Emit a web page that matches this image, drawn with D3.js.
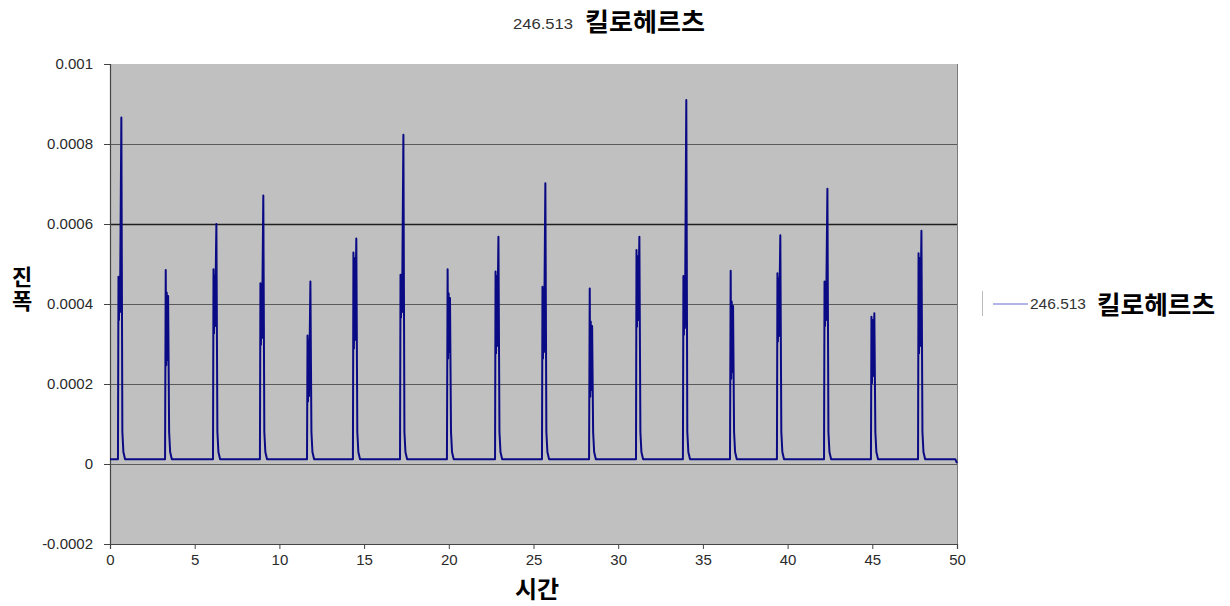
<!DOCTYPE html>
<html><head><meta charset="utf-8">
<script src="https://cdn.jsdelivr.net/npm/d3@7"></script>
<style>
body{margin:0;background:#fff;}
svg{display:block;}
</style></head>
<body><svg id="c" width="1230" height="606"></svg>
<script>
// ---- data ----
const seriesName = "246.513";
const titleUnit = "킬로헤르츠";
const xLabel = "시간";
const yLabel = "진폭";
const xTicks = [0,5,10,15,20,25,30,35,40,45,50];
const yTicks = [-0.0002,0,0.0002,0.0004,0.0006,0.0008,0.001];
const yTickLabels = ["-0.0002","0","0.0002","0.0004","0.0006","0.0008","0.001"];

const time = [
  0,
  0.47,0.50,0.53,0.56,0.59,0.67,0.73,0.79,0.89,
  3.25,3.29,3.32,3.35,3.38,3.43,3.49,3.55,3.65,
  6.08,6.11,6.14,6.17,6.20,6.28,6.34,6.40,6.50,
  8.85,8.88,8.91,8.94,8.97,9.05,9.11,9.17,9.27,
  11.63,11.66,11.69,11.72,11.75,11.83,11.89,11.95,12.05,
  14.34,14.37,14.40,14.43,14.46,14.54,14.60,14.66,14.76,
  17.12,17.15,17.18,17.21,17.24,17.32,17.38,17.44,17.54,
  19.89,19.93,19.96,19.99,20.02,20.07,20.13,20.19,20.29,
  22.73,22.76,22.79,22.82,22.85,22.93,22.99,23.05,23.15,
  25.50,25.53,25.56,25.59,25.62,25.70,25.76,25.82,25.92,
  28.28,28.32,28.35,28.38,28.41,28.46,28.52,28.58,28.68,
  31.05,31.08,31.11,31.14,31.17,31.25,31.31,31.37,31.47,
  33.82,33.85,33.88,33.91,33.94,34.02,34.08,34.14,34.24,
  36.60,36.64,36.67,36.70,36.73,36.78,36.84,36.90,37.00,
  39.37,39.40,39.43,39.46,39.49,39.57,39.63,39.69,39.79,
  42.15,42.18,42.21,42.24,42.27,42.35,42.41,42.47,42.57,
  44.92,44.95,44.98,45.01,45.04,45.12,45.18,45.24,45.34,
  47.70,47.73,47.76,47.79,47.82,47.90,47.96,48.02,48.12,
  49.90,50.00
];
const amplitude = [
  1.2e-5,
  1.2e-5,4.68e-4,3.60e-4,4.55e-4,3.80e-4,8.66e-4,8e-5,3e-5,1.2e-5,
  1.2e-5,4.85e-4,2.47e-4,4.29e-4,2.60e-4,4.20e-4,8e-5,3e-5,1.2e-5,
  1.2e-5,4.87e-4,3.27e-4,4.72e-4,3.45e-4,6.00e-4,8e-5,3e-5,1.2e-5,
  1.2e-5,4.52e-4,2.98e-4,4.40e-4,3.15e-4,6.71e-4,8e-5,3e-5,1.2e-5,
  1.2e-5,3.21e-4,1.56e-4,3.10e-4,1.70e-4,4.56e-4,8e-5,3e-5,1.2e-5,
  1.2e-5,5.29e-4,2.89e-4,5.15e-4,3.10e-4,5.64e-4,8e-5,3e-5,1.2e-5,
  1.2e-5,4.73e-4,3.66e-4,4.60e-4,3.80e-4,8.23e-4,8e-5,3e-5,1.2e-5,
  1.2e-5,4.87e-4,2.64e-4,4.27e-4,2.80e-4,4.15e-4,8e-5,3e-5,1.2e-5,
  1.2e-5,4.81e-4,2.77e-4,4.70e-4,2.95e-4,5.68e-4,8e-5,3e-5,1.2e-5,
  1.2e-5,4.43e-4,2.64e-4,4.30e-4,2.80e-4,7.02e-4,8e-5,3e-5,1.2e-5,
  1.2e-5,4.39e-4,1.68e-4,3.56e-4,1.85e-4,3.45e-4,8e-5,3e-5,1.2e-5,
  1.2e-5,5.35e-4,3.43e-4,5.20e-4,3.60e-4,5.68e-4,8e-5,3e-5,1.2e-5,
  1.2e-5,4.70e-4,3.23e-4,4.60e-4,3.40e-4,9.10e-4,8e-5,3e-5,1.2e-5,
  1.2e-5,4.83e-4,2.13e-4,4.06e-4,2.30e-4,3.95e-4,8e-5,3e-5,1.2e-5,
  1.2e-5,4.77e-4,3.06e-4,4.65e-4,3.20e-4,5.72e-4,8e-5,3e-5,1.2e-5,
  1.2e-5,4.56e-4,3.45e-4,4.45e-4,3.60e-4,6.88e-4,8e-5,3e-5,1.2e-5,
  1.2e-5,3.68e-4,2.02e-4,3.60e-4,2.20e-4,3.77e-4,8e-5,3e-5,1.2e-5,
  1.2e-5,5.27e-4,2.77e-4,5.15e-4,2.95e-4,5.83e-4,8e-5,3e-5,1.2e-5,
  1.2e-5,2e-6
];

// ---- layout ----
const svg = d3.select("#c");
const L = 110, R = 957, T = 64, B = 544;
const x = d3.scaleLinear().domain([0,50]).range([L,R]);
const y = d3.scaleLinear().domain([-0.0002,0.001]).range([B,T]);
const smallFont = "Arial, 'Liberation Sans', sans-serif";
const krFont = "'Noto Sans CJK KR', sans-serif";

// plot background
svg.append("rect").attr("x",L).attr("y",T).attr("width",R-L).attr("height",B-T).attr("fill","#c0c0c0");

// gridlines
svg.append("g").selectAll("line").data(yTicks.filter(v=>v>-0.0002 && v<0.001)).join("line")
  .attr("x1",L).attr("x2",R)
  .attr("y1",d=>Math.round(y(d))+0.5).attr("y2",d=>Math.round(y(d))+0.5)
  .attr("stroke",d=>Math.abs(d-0.0006)<1e-9 ? "#1e1e1e" : "#5a5a5a")
  .attr("stroke-width",d=>Math.abs(d-0.0006)<1e-9 ? 1.6 : 1.2);

// right border
svg.append("line").attr("x1",R+0.5).attr("x2",R+0.5).attr("y1",T).attr("y2",B).attr("stroke","#7a7a7a").attr("stroke-width",1);

// axes
const yAxis = d3.axisLeft(y).tickValues(yTicks).tickSize(6).tickPadding(11)
  .tickFormat((d,i)=>yTickLabels[i]);
const gy = svg.append("g").attr("transform",`translate(${L},0)`).call(yAxis);
const xAxis = d3.axisBottom(x).tickValues(xTicks).tickSize(5).tickPadding(5).tickFormat(d3.format("d"));
const gx = svg.append("g").attr("transform",`translate(0,${B})`).call(xAxis);
[gx,gy].forEach(g=>{
  g.select(".domain").attr("stroke","#444").attr("stroke-width",1.2);
  g.selectAll(".tick line").attr("stroke","#444");
  g.selectAll(".tick text").attr("font-family",smallFont).attr("font-size",15).attr("fill","#2a2a2a");
});

// series line
const pts = time.map((t,i)=>[t,amplitude[i]]);
svg.append("path").datum(pts)
  .attr("fill","none").attr("stroke","#0a0a85").attr("stroke-width",2).attr("stroke-linejoin","round")
  .attr("d", d3.line().x(d=>x(d[0])).y(d=>y(d[1])));

// title
svg.append("text").attr("x",513).attr("y",29).attr("font-family",smallFont).attr("font-size",15.5)
  .attr("fill","#333").attr("textLength",60).attr("lengthAdjust","spacingAndGlyphs").text(seriesName);
svg.append("text").attr("x",585).attr("y",31).attr("font-family",krFont).attr("font-weight",700)
  .attr("font-size",25).attr("fill","#000").attr("textLength",120).attr("lengthAdjust","spacingAndGlyphs").text(titleUnit);

// y label (stacked vertically, upright characters)
svg.append("text").attr("x",22).attr("y",266)
  .style("writing-mode","vertical-rl").style("text-orientation","upright")
  .attr("letter-spacing",2)
  .attr("font-family",krFont).attr("font-weight",700).attr("font-size",22).attr("fill","#000")
  .text(yLabel);

// x label
svg.append("text").attr("x",537).attr("y",598).attr("text-anchor","middle")
  .attr("font-family",krFont).attr("font-weight",700).attr("font-size",24).attr("fill","#000").text(xLabel);

// legend
const lg = svg.append("g");
lg.append("line").attr("x1",982.5).attr("x2",982.5).attr("y1",291).attr("y2",316).attr("stroke","#bbb");
lg.append("line").attr("x1",993).attr("x2",1028).attr("y1",304).attr("y2",304).attr("stroke","#6a6ad0").attr("stroke-width",1.2);
lg.append("text").attr("x",1030).attr("y",309).attr("font-family",smallFont).attr("font-size",15)
  .attr("fill","#333").attr("textLength",56).attr("lengthAdjust","spacingAndGlyphs").text(seriesName);
lg.append("text").attr("x",1097).attr("y",314).attr("font-family",krFont).attr("font-weight",700)
  .attr("font-size",25).attr("fill","#000").attr("textLength",118).attr("lengthAdjust","spacingAndGlyphs").text(titleUnit);
</script></body></html>
